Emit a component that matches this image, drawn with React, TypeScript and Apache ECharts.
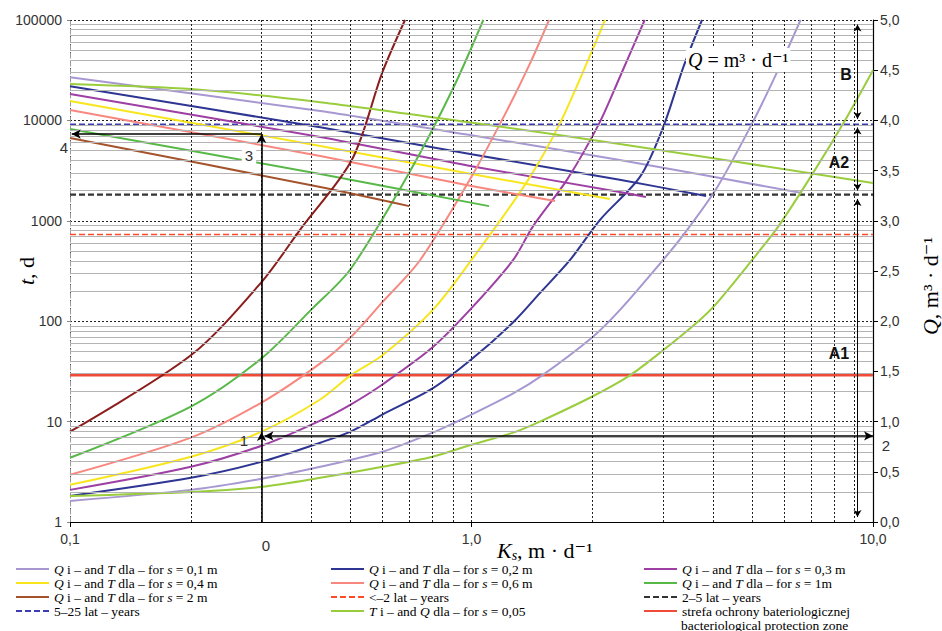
import React, { useEffect, useRef } from 'react';
import * as echarts from 'echarts';

// ---------- axes ----------
const KS_MIN = 0.1;
const KS_MAX = 10;
const T_MIN = 1;
const T_MAX = 100000;
const Q_MIN = 0;
const Q_MAX = 5;
const Q_STEP = 0.5;
const KS_MINOR = [0.2, 0.3, 0.4, 0.5, 0.6, 0.7, 0.8, 0.9, 2, 3, 4, 5, 6, 7, 8, 9];
const T_MINOR_MULT = [2, 3, 4, 5, 6, 7, 8, 9];
const T_DECADES = [1, 10, 100, 1000, 10000];

// ---------- series names ----------
const N01 = 'Q i – and T dla – for s = 0,1 m';
const N02 = 'Q i – and T dla – for s = 0,2 m';
const N03 = 'Q i – and T dla – for s = 0,3 m';
const N04 = 'Q i – and T dla – for s = 0,4 m';
const N06 = 'Q i – and T dla – for s = 0,6 m';
const N1 = 'Q i – and T dla – for s = 1m';
const N2 = 'Q i – and T dla – for s = 2 m';
const N005 = 'T i – and Q dla – for s = 0,05';
const NL2 = '<–2 lat – years';
const NL5 = '2–5 lat – years';
const NL25 = '5–25 lat – years';
const NZONE = 'strefa ochrony bateriologicznej';

// ---------- s = 0,1 m ----------
const KS_Q_S01 = [0.1, 0.2, 0.3, 0.42, 0.6, 0.8, 1.0, 1.27, 1.5, 2.0, 2.34, 3.0, 3.4, 4.1, 5.0, 5.8, 6.6];
const Q_S01 = [0.21, 0.32, 0.43, 0.55, 0.70, 0.89, 1.07, 1.28, 1.46, 1.84, 2.11, 2.61, 2.88, 3.34, 3.97, 4.50, 5.0];
const KS_T_S01 = [0.1, 0.42, 1.0, 2.34, 6.65];
const T_S01 = [26900, 12400, 7100, 4030, 1890];

// ---------- s = 0,2 m ----------
const KS_Q_S02 = [0.1, 0.2, 0.3, 0.42, 0.5, 0.6, 0.8, 1.0, 1.27, 1.48, 1.76, 2.09, 2.63, 3.0, 3.37, 3.75];
const Q_S02 = [0.26, 0.44, 0.60, 0.79, 0.90, 1.07, 1.33, 1.62, 1.99, 2.28, 2.61, 3.01, 3.44, 3.93, 4.53, 5.0];
const KS_T_S02 = [0.1, 0.42, 1.0, 2.34, 3.84];
const T_S02 = [21900, 8550, 4600, 2560, 1770];

// ---------- s = 0,3 m ----------
const KS_Q_S03 = [0.1, 0.2, 0.3, 0.42, 0.5, 0.6, 0.8, 1.0, 1.27, 1.42, 1.73, 2.08, 2.34, 2.7];
const Q_S03 = [0.32, 0.55, 0.76, 1.01, 1.17, 1.37, 1.74, 2.13, 2.61, 2.94, 3.41, 3.97, 4.43, 5.0];
const KS_T_S03 = [0.1, 0.42, 1.0, 2.34, 2.72];
const T_S03 = [18300, 6840, 3500, 1940, 1730];

// ---------- s = 0,4 m ----------
const KS_Q_S04 = [0.1, 0.2, 0.3, 0.42, 0.5, 0.6, 0.8, 1.0, 1.37, 1.66, 2.0, 2.15];
const Q_S04 = [0.37, 0.65, 0.90, 1.22, 1.46, 1.66, 2.11, 2.61, 3.38, 3.97, 4.70, 5.0];
const KS_T_S04 = [0.1, 0.42, 1.0, 2.21];
const T_S04 = [15600, 5560, 2930, 1650];

// ---------- s = 0,6 m ----------
const KS_Q_S06 = [0.1, 0.2, 0.3, 0.42, 0.5, 0.6, 0.745, 1.0, 1.226, 1.4, 1.56];
const Q_S06 = [0.47, 0.84, 1.19, 1.58, 1.84, 2.19, 2.61, 3.44, 4.10, 4.57, 5.0];
const KS_T_S06 = [0.1, 0.42, 1.0, 1.615];
const T_S06 = [12700, 4420, 2220, 1575];

// ---------- s = 1 m ----------
const KS_Q_S1 = [0.1, 0.2, 0.3, 0.4, 0.5, 0.7, 0.9, 1.07];
const Q_S1 = [0.64, 1.15, 1.63, 2.12, 2.52, 3.48, 4.32, 5.0];
const KS_T_S1 = [0.1, 0.42, 1.106];
const T_S1 = [8200, 2920, 1400];

// ---------- s = 2 m ----------
const KS_Q_S2 = [0.1, 0.2, 0.3, 0.374, 0.504, 0.6, 0.683];
const Q_S2 = [0.90, 1.66, 2.39, 2.91, 3.61, 4.48, 5.0];
const KS_T_S2 = [0.1, 0.42, 0.7];
const T_S2 = [6680, 2170, 1400];

// ---------- s = 0,05 ----------
const KS_Q_S005 = [0.1, 0.2, 0.3, 0.42, 0.6, 0.8, 1.0, 1.27, 1.48, 2.0, 2.48, 3.0, 3.65, 4.04, 5.0, 5.8, 7.1, 8.6, 10];
const Q_S005 = [0.26, 0.30, 0.35, 0.44, 0.55, 0.65, 0.77, 0.89, 1.00, 1.25, 1.46, 1.71, 1.99, 2.16, 2.61, 2.94, 3.48, 4.03, 4.50];
const KS_T_S005 = [0.1, 0.2, 0.42, 0.975, 2.34, 10];
const T_S005 = [23000, 20500, 15200, 9640, 5820, 2380];

// ---------- horizontal time limits (days) ----------
const T_25_YEARS = 9125;
const T_5_YEARS = 1825;
const T_2_YEARS = 730;
const T_ZONE = 29;

// ---------- reading example (arrows) ----------
const EX_KS = 0.3;
const EX_T_Q = 7.9;   // where the up arrow meets the Q curve
const EX_T_H = 7.2;   // horizontal arrow towards Q axis
const EX_T_T = 7300;  // where arrow 3 meets the T curve
const EX_KS_START = 0.305;
const ZONE_KS = 9.15;
const ZONE_B = [90000, 10300];
const ZONE_A2 = [8500, 2000];
const ZONE_A1 = [1650, 1.12];

const SERIF = '"Liberation Serif", "Times New Roman", "DejaVu Serif", serif';
const SANS = '"Liberation Sans", Arial, Helvetica, sans-serif';

function zip(xs: number[], ys: number[]) {
  return xs.map((x, i) => [x, ys[i]]);
}

function richName(name: string) {
  if (name.startsWith('Q i')) {
    return name.replace(/^Q i/, '{i|Q} i').replace(' T dla', ' {i|T} dla').replace('for s', 'for {i|s}');
  }
  if (name.startsWith('T i')) {
    return name.replace(/^T i/, '{i|T} i').replace(' Q dla', ' {i|Q} dla').replace('for s', 'for {i|s}');
  }
  return name;
}

export default function App() {
  const ref = useRef<HTMLDivElement>(null);

  useEffect(() => {
    if (!ref.current) return;
    const chart = echarts.init(ref.current, undefined, { renderer: 'svg' });

    const curves = [
      { name: N01, color: '#a898d2', qColor: '#a898d2', ks: KS_Q_S01, q: Q_S01, ksT: KS_T_S01, t: T_S01 },
      { name: N02, color: '#2e3592', qColor: '#2e3592', ks: KS_Q_S02, q: Q_S02, ksT: KS_T_S02, t: T_S02 },
      { name: N03, color: '#9e3fa4', qColor: '#9e3fa4', ks: KS_Q_S03, q: Q_S03, ksT: KS_T_S03, t: T_S03 },
      { name: N04, color: '#f7e61e', qColor: '#f7e61e', ks: KS_Q_S04, q: Q_S04, ksT: KS_T_S04, t: T_S04 },
      { name: N06, color: '#f8877f', qColor: '#f8877f', ks: KS_Q_S06, q: Q_S06, ksT: KS_T_S06, t: T_S06 },
      { name: N1, color: '#58b948', qColor: '#58b948', ks: KS_Q_S1, q: Q_S1, ksT: KS_T_S1, t: T_S1 },
      { name: N2, color: '#a4532c', qColor: '#8c1d1d', ks: KS_Q_S2, q: Q_S2, ksT: KS_T_S2, t: T_S2 },
      { name: N005, color: '#9acd3c', qColor: '#9acd3c', ks: KS_Q_S005, q: Q_S005, ksT: KS_T_S005, t: T_S005 },
    ];

    const series: any[] = [];

    // minor grid lines
    series.push({
      type: 'line',
      data: [],
      silent: true,
      z: 1,
      markLine: {
        silent: true,
        symbol: 'none',
        animation: false,
        label: { show: false },
        lineStyle: { color: '#b4b4b4', type: 'solid', width: 1 },
        data: T_DECADES.flatMap((d) => T_MINOR_MULT.map((m) => ({ yAxis: d * m }))),
      },
    });
    series.push({
      type: 'line',
      data: [],
      silent: true,
      z: 1,
      markLine: {
        silent: true,
        symbol: 'none',
        animation: false,
        label: { show: false },
        lineStyle: { color: '#222', type: [2, 2], width: 1 },
        data: KS_MINOR.map((v) => ({ xAxis: v })),
      },
    });

    // horizontal time limits
    const hLine = (name: string, v: number, color: string, type: any, width: number) => ({
      type: 'line',
      name,
      yAxisIndex: 0,
      data: [[KS_MIN, v], [KS_MAX, v]],
      symbol: 'none',
      silent: true,
      z: 2,
      lineStyle: { color, type, width },
      itemStyle: { color },
    });
    series.push(hLine(NL25, T_25_YEARS, '#3c3cb4', [6, 3], 1.6));
    series.push(hLine(NL5, T_5_YEARS, '#333333', [6, 3], 2.2));
    series.push(hLine(NL2, T_2_YEARS, '#ff4a2a', [6, 3], 1.6));
    series.push(hLine(NZONE, T_ZONE, '#f04a38', 'solid', 2.4));

    curves.forEach((c) => {
      series.push({
        type: 'line',
        name: c.name,
        yAxisIndex: 0,
        data: zip(c.ksT, c.t),
        symbol: 'none',
        smooth: 0.25,
        silent: true,
        z: 3,
        lineStyle: { color: c.color, width: 2 },
        itemStyle: { color: c.color },
      });
      series.push({
        type: 'line',
        name: c.name,
        yAxisIndex: 1,
        data: zip(c.ks, c.q),
        symbol: 'none',
        smooth: 0.3,
        silent: true,
        z: 3,
        lineStyle: { color: c.qColor, width: 2 },
        itemStyle: { color: c.qColor },
      });
    });

    // reading arrows
    const arrowPt = (ks: number, t: number, sym: string) => ({ coord: [ks, t], symbol: sym });
    series.push({
      type: 'line',
      data: [],
      silent: true,
      z: 5,
      markLine: {
        silent: true,
        animation: false,
        symbolSize: [7, 9],
        label: { show: false },
        lineStyle: { color: '#000', type: 'solid', width: 1.6 },
        data: [
          [arrowPt(EX_KS, T_MIN, 'none'), arrowPt(EX_KS, EX_T_Q, 'arrow')],
          [arrowPt(EX_KS, EX_T_Q, 'none'), arrowPt(EX_KS, EX_T_T, 'arrow')],
          [arrowPt(EX_KS_START, EX_T_H, 'arrow'), arrowPt(KS_MAX, EX_T_H, 'arrow')],
          [arrowPt(EX_KS, EX_T_T, 'none'), arrowPt(KS_MIN * 1.01, EX_T_T, 'arrow')],
        ],
      },
    });
    series.push({
      type: 'line',
      data: [],
      silent: true,
      z: 5,
      markLine: {
        silent: true,
        animation: false,
        symbolSize: [6, 7],
        label: { show: false },
        lineStyle: { color: '#000', type: 'solid', width: 1 },
        data: [
          [arrowPt(ZONE_KS, ZONE_B[0], 'arrow'), arrowPt(ZONE_KS, ZONE_B[1], 'arrow')],
          [arrowPt(ZONE_KS, ZONE_A2[0], 'arrow'), arrowPt(ZONE_KS, ZONE_A2[1], 'arrow')],
          [arrowPt(ZONE_KS, ZONE_A1[0], 'arrow'), arrowPt(ZONE_KS, ZONE_A1[1], 'arrow')],
        ],
      },
    });

    const legendText = {
      fontFamily: SERIF,
      fontSize: 13.5,
      color: '#000',
      lineHeight: 14,
      rich: { i: { fontStyle: 'italic', fontFamily: SERIF, fontSize: 13.5, lineHeight: 14 } },
    };
    const legendBase = {
      orient: 'vertical',
      top: 562,
      itemWidth: 33,
      itemHeight: 14,
      itemGap: 0,
      padding: 0,
      selectedMode: false,
      itemStyle: { opacity: 0 },
      textStyle: legendText,
      formatter: (n: string) => richName(n),
    };

    const titleRich = {
      i: { fontStyle: 'italic', fontFamily: SERIF, fontSize: 22 },
    };

    const option: any = {
      animation: false,
      backgroundColor: '#fff',
      grid: { left: 70, right: 69, top: 20, bottom: 109, containLabel: false, outerBoundsMode: 'none' },
      xAxis: {
        type: 'log',
        logBase: 10,
        min: KS_MIN,
        max: KS_MAX,
        axisLine: { show: true, lineStyle: { color: '#000', width: 1.2 } },
        axisTick: { show: true, length: 5, lineStyle: { color: '#000' } },
        axisLabel: {
          margin: 10,
          fontFamily: SANS,
          fontSize: 14,
          color: '#333',
          formatter: (v: number) => v.toFixed(1).replace('.', ','),
        },
        splitLine: { show: true, lineStyle: { color: '#222', type: [2, 2], width: 1 } },
      },
      yAxis: [
        {
          type: 'log',
          logBase: 10,
          min: T_MIN,
          max: T_MAX,
          position: 'left',
          axisLine: { show: true, lineStyle: { color: '#999', type: [5, 3], width: 1 } },
          axisTick: { show: true, length: 3, lineStyle: { color: '#888' } },
          axisLabel: {
            margin: 8,
            fontFamily: SANS,
            fontSize: 14,
            color: '#333',
            formatter: (v: number) => String(Math.round(v)),
          },
          splitLine: { show: true, lineStyle: { color: '#222', type: [2, 2], width: 1 } },
        },
        {
          type: 'value',
          min: Q_MIN,
          max: Q_MAX,
          interval: Q_STEP,
          position: 'right',
          axisLine: { show: true, lineStyle: { color: '#000', width: 1.2 } },
          axisTick: { show: true, length: 5, lineStyle: { color: '#000' } },
          axisLabel: {
            margin: 7,
            fontFamily: SANS,
            fontSize: 14,
            color: '#333',
            formatter: (v: number) => v.toFixed(1).replace('.', ','),
          },
          splitLine: { show: false },
        },
      ],
      legend: [
        { ...legendBase, left: 15, data: [N01, N04, N2, NL25] },
        { ...legendBase, left: 330, data: [N02, N06, NL2, N005] },
        { ...legendBase, left: 643, data: [N03, N1, NL5, NZONE] },
      ],
      graphic: [
        {
          type: 'text',
          z: 100,
          x: 26,
          y: 271,
          rotation: Math.PI / 2,
          style: {
            text: '{i|t}, d',
            font: `22px ${SERIF}`,
            fill: '#000',
            textAlign: 'center',
            textVerticalAlign: 'middle',
            rich: titleRich,
          },
        },
        {
          type: 'text',
          z: 100,
          x: 930,
          y: 286,
          rotation: Math.PI / 2,
          style: {
            text: '{i|Q}, m³ · d⁻¹',
            font: `22px ${SERIF}`,
            fill: '#000',
            textAlign: 'center',
            textVerticalAlign: 'middle',
            rich: titleRich,
          },
        },
        {
          type: 'text',
          z: 100,
          x: 497,
          y: 550,
          style: {
            text: '{i|K}{sub|s}, m · d⁻¹',
            font: `22px ${SERIF}`,
            fill: '#000',
            textVerticalAlign: 'middle',
            rich: {
              i: { fontStyle: 'italic', fontFamily: SERIF, fontSize: 22 },
              sub: { fontStyle: 'italic', fontFamily: SERIF, fontSize: 14, verticalAlign: 'bottom', padding: [10, 0, 0, 0] },
            },
          },
        },
        {
          type: 'text',
          z: 100,
          x: 686,
          y: 60,
          style: {
            text: '{i|Q} = m³ · d⁻¹',
            font: `20px ${SERIF}`,
            fill: '#000',
            textVerticalAlign: 'middle',
            backgroundColor: '#fff',
            padding: [2, 2],
            rich: { i: { fontStyle: 'italic', fontFamily: SERIF, fontSize: 20 } },
          },
        },
        { type: 'text', z: 100, x: 846, y: 74, style: { text: 'B', font: `bold 16px ${SANS}`, fill: '#111', textAlign: 'center', textVerticalAlign: 'middle' } },
        { type: 'text', z: 100, x: 839, y: 162, style: { text: 'A2', font: `bold 16px ${SANS}`, fill: '#111', textAlign: 'center', textVerticalAlign: 'middle' } },
        { type: 'text', z: 100, x: 839, y: 353, style: { text: 'A1', font: `bold 16px ${SANS}`, fill: '#111', textAlign: 'center', textVerticalAlign: 'middle' } },
        { type: 'text', z: 100, x: 266, y: 545, style: { text: '0', font: `15px ${SANS}`, fill: '#333', textAlign: 'center', textVerticalAlign: 'middle' } },
        { type: 'text', z: 100, x: 244, y: 440, style: { text: '1', font: `15px ${SANS}`, fill: '#333', textAlign: 'center', textVerticalAlign: 'middle' } },
        { type: 'text', z: 100, x: 886, y: 445, style: { text: '2', font: `15px ${SANS}`, fill: '#333', textAlign: 'center', textVerticalAlign: 'middle' } },
        { type: 'text', z: 100, x: 249, y: 155, style: { text: '3', font: `15px ${SANS}`, fill: '#333', textAlign: 'center', textVerticalAlign: 'middle', backgroundColor: '#fff', padding: [2, 3] } },
        { type: 'text', z: 100, x: 64, y: 147, style: { text: '4', font: `15px ${SANS}`, fill: '#333', textAlign: 'center', textVerticalAlign: 'middle' } },
        {
          type: 'text',
          z: 100,
          x: 681,
          y: 625,
          style: { text: 'bacteriological protection zone', font: `13.5px ${SERIF}`, fill: '#000', textVerticalAlign: 'middle' },
        },
      ],
      series,
    };

    chart.setOption(option);
    return () => chart.dispose();
  }, []);

  return (
    <div
      ref={ref}
      style={{ position: 'fixed', left: 0, top: 0, width: 942, height: 631, background: '#fff' }}
    />
  );
}
